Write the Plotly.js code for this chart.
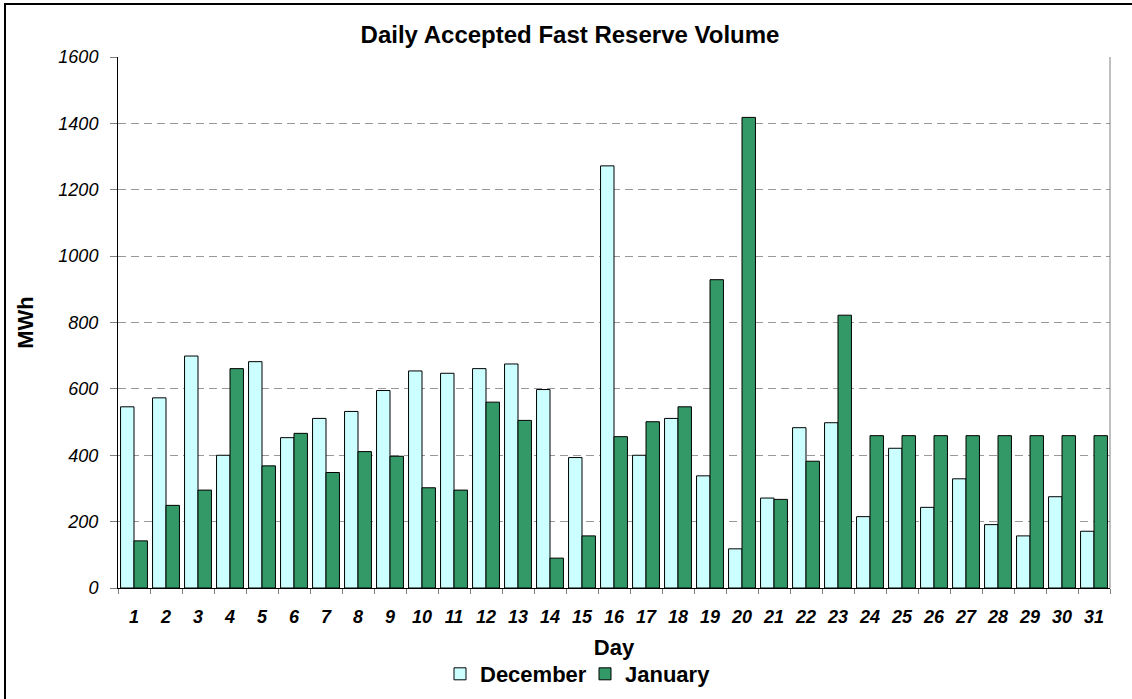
<!DOCTYPE html>
<html>
<head>
<meta charset="utf-8">
<script src="https://cdn.plot.ly/plotly-3.0.1.min.js"></script>
<style>
  html, body { margin: 0; padding: 0; background: #fff; }
  #chart { width: 1132px; height: 699px; }
  #frame { position: absolute; left: 4px; top: 3px; width: 1140px; height: 710px;
           border-left: 2px solid #000; border-top: 2px solid #000; pointer-events: none; }
</style>
</head>
<body>
<div id="chart"></div>
<div id="frame"></div>
<script>
const days = ['1','2','3','4','5','6','7','8','9','10','11','12','13','14','15','16',
              '17','18','19','20','21','22','23','24','25','26','27','28','29','30','31'];
const december = [546, 573, 699, 400, 682, 453, 511, 532, 595, 654, 647, 661, 675, 598, 393, 1272,
                  400, 511, 338, 118, 271, 483, 498, 215, 421, 243, 329, 191, 157, 275, 171];
const january  = [142, 249, 295, 661, 368, 466, 348, 411, 397, 302, 295, 560, 505, 90, 157, 456,
                  501, 546, 929, 1418, 267, 382, 822, 459, 459, 459, 459, 459, 459, 459, 459];

const font = 'Liberation Sans, Arial, sans-serif';

const traces = [
  { type: 'bar', name: 'December', x: days, y: december,
    marker: { color: '#CCFFFF', line: { color: '#000000', width: 1 } } },
  { type: 'bar', name: 'January', x: days, y: january,
    marker: { color: '#339966', line: { color: '#000000', width: 1 } } }
];

const layout = {
  width: 1132, height: 699,
  margin: { l: 118, r: 22, t: 57, b: 111, autoexpand: false },
  paper_bgcolor: '#ffffff', plot_bgcolor: '#ffffff',
  font: { family: font, color: '#000' },
  title: { text: '<b>Daily Accepted Fast Reserve Volume</b>', x: 570/1132, xanchor: 'center',
           y: 1 - 35/699, yanchor: 'middle', font: { size: 24, family: font, color: '#000' } },
  barmode: 'group', bargap: 0.16, bargroupgap: 0,
  showlegend: true,
  legend: { orientation: 'h', x: (440 - 118) / 992, xanchor: 'left', y: -0.162, yanchor: 'middle',
            font: { size: 22, family: font, color: '#000', weight: 'bold' },
            entrywidth: 100, itemwidth: 30, tracegroupgap: 0 },
  xaxis: {
    type: 'category', tickson: 'boundaries', ticks: 'outside', ticklen: 5, tickcolor: '#808080',
    showline: true, linecolor: '#000', linewidth: 1, showgrid: false, automargin: false,
    ticklabelstandoff: 12,
    tickfont: { size: 18, family: font, color: '#000', weight: 'bold', style: 'italic' },
    title: { text: '<b>Day</b>', font: { size: 22, family: font, color: '#000' }, standoff: 14 }
  },
  yaxis: {
    range: [0, 1600], tickvals: [0, 200, 400, 600, 800, 1000, 1200, 1400, 1600],
    ticks: 'outside', ticklen: 7, tickcolor: '#808080', automargin: false,
    showline: true, linecolor: '#000', linewidth: 1, zeroline: false,
    showgrid: true, gridcolor: '#999999', gridwidth: 1, griddash: '8px,5px',
    ticklabelstandoff: 8,
    tickfont: { size: 18, family: font, color: '#000', style: 'italic' },
    title: { text: '<b>MWh</b>', font: { size: 22, family: font, color: '#000' }, standoff: 18 }
  },
  shapes: [
    { type: 'line', xref: 'paper', yref: 'paper', x0: 1, x1: 1, y0: 0, y1: 1,
      line: { color: '#808080', width: 1 } }
  ]
};

Plotly.newPlot('chart', traces, layout, { displayModeBar: false });
</script>
</body>
</html>
